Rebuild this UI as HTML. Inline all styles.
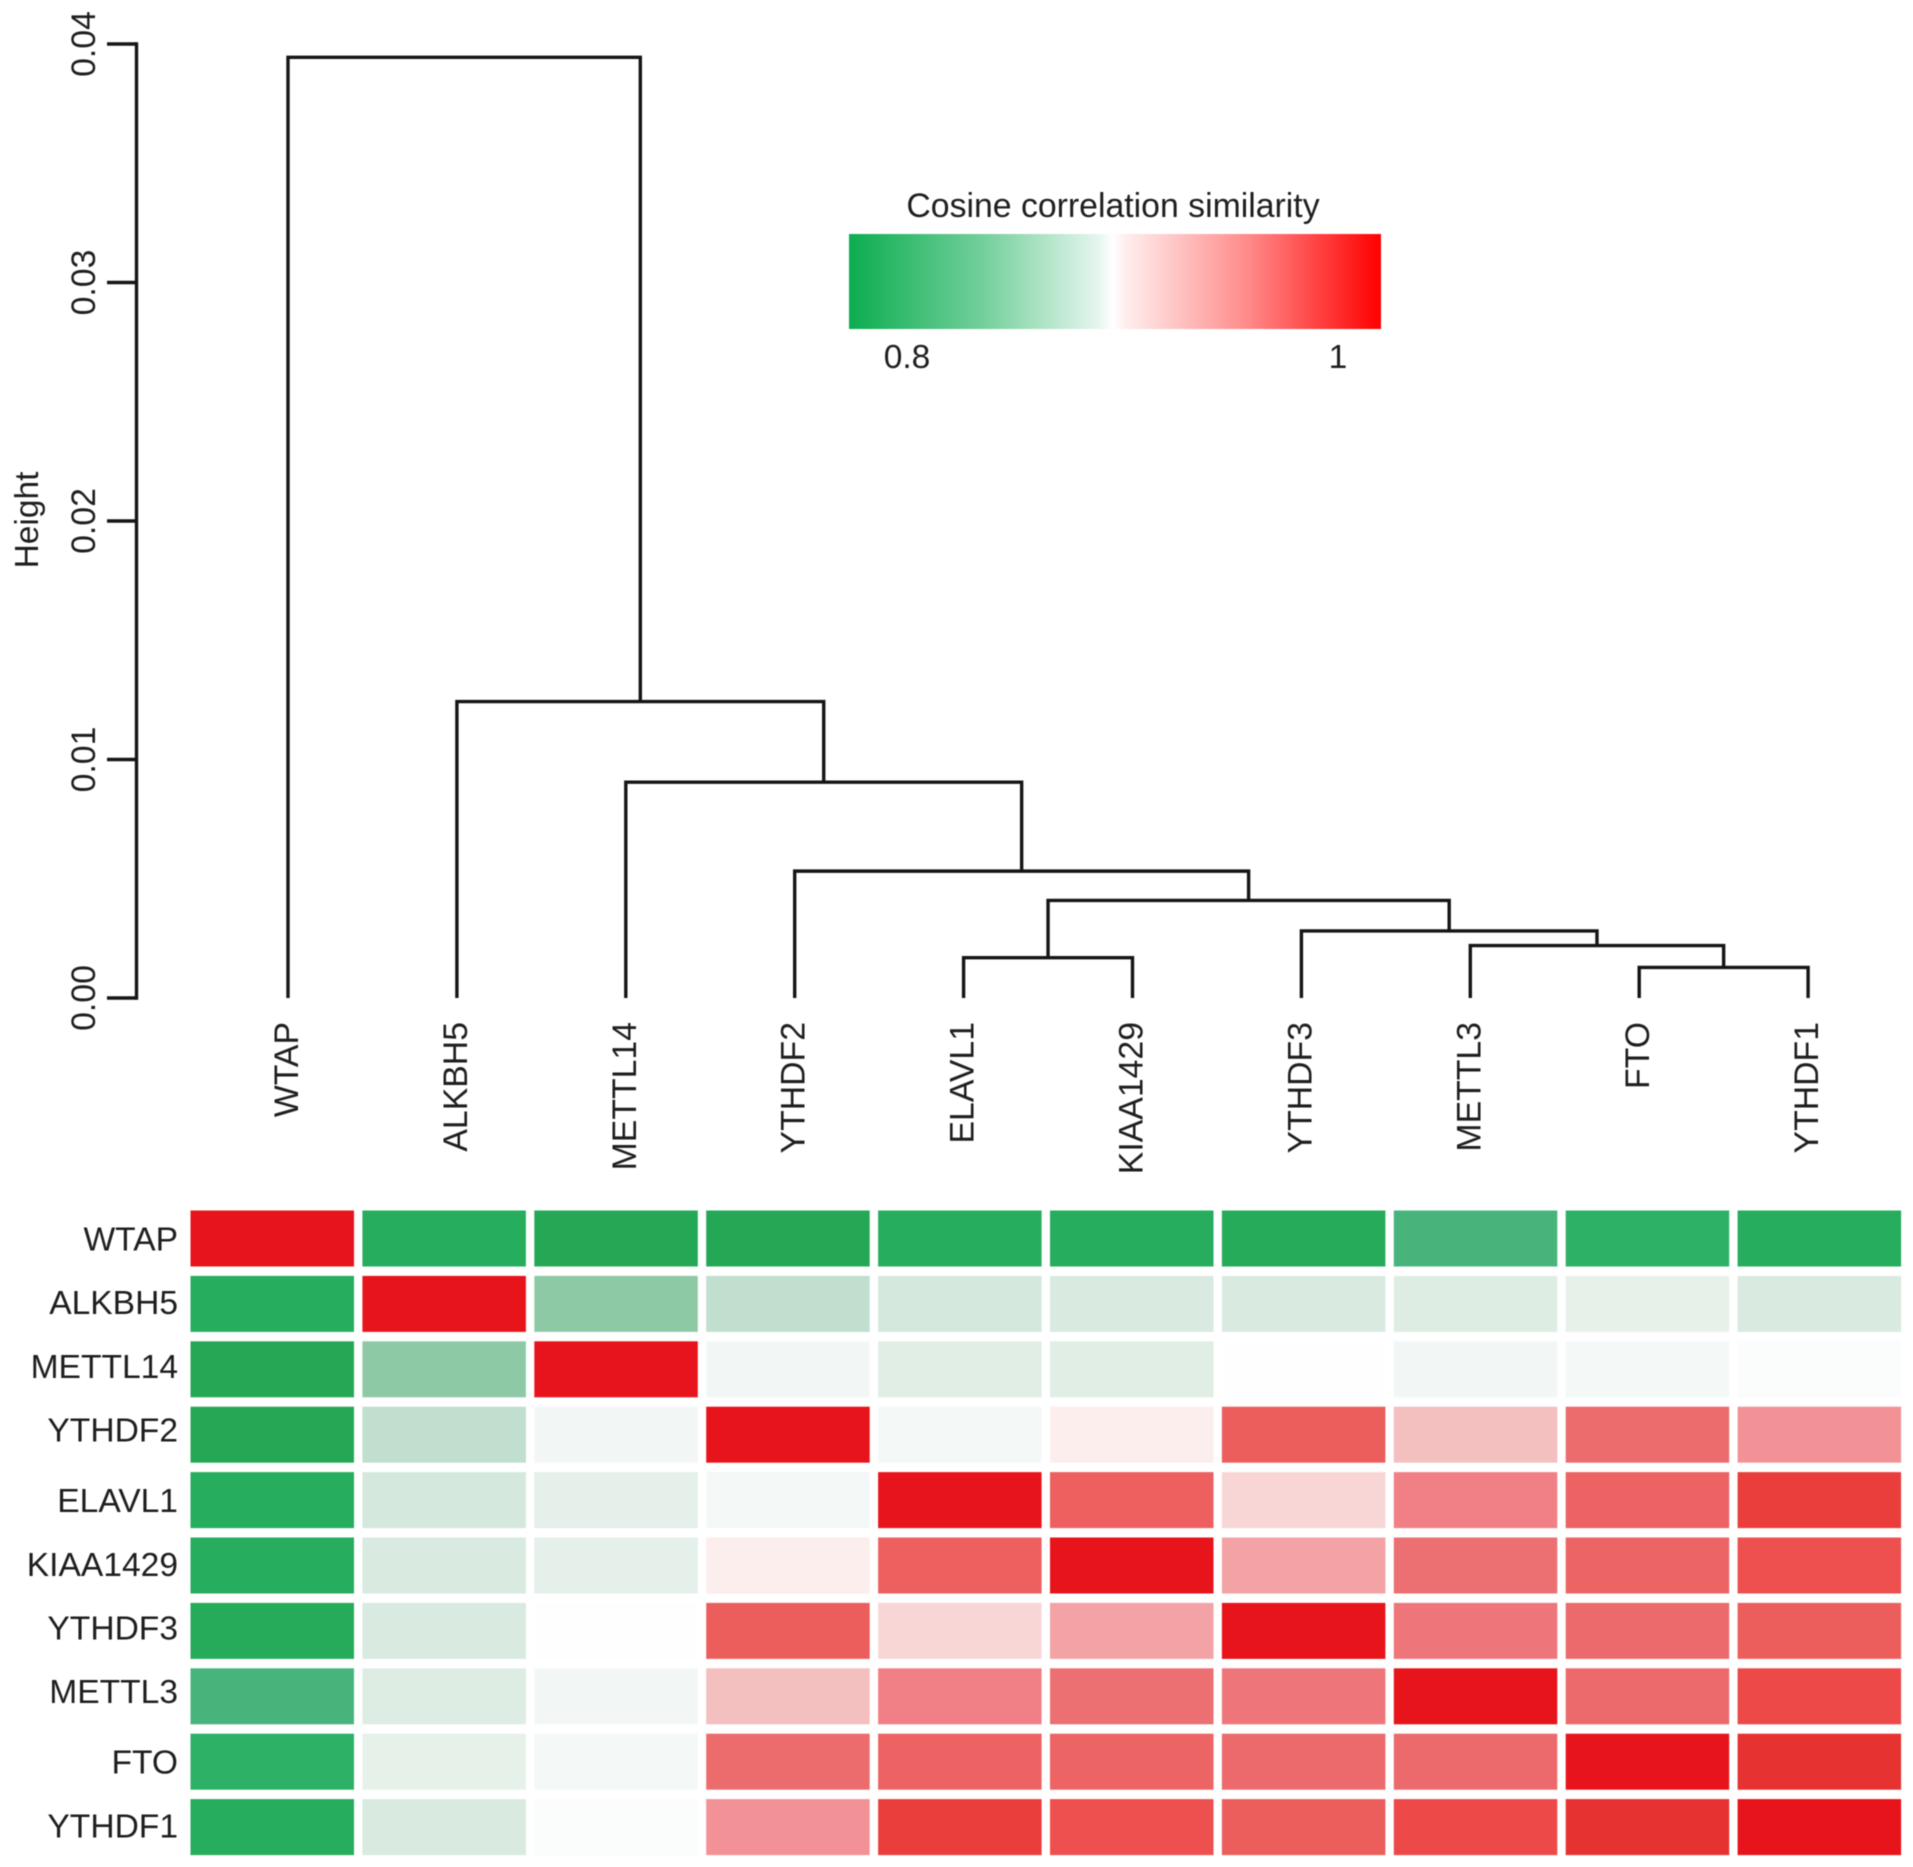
<!DOCTYPE html>
<html>
<head>
<meta charset="utf-8">
<title>Cosine correlation similarity dendrogram and heatmap</title>
<style>
html,body{margin:0;padding:0;background:#fff;}
svg{display:block;filter:blur(0.6px);}
text{font-family:"Liberation Sans",sans-serif;fill:#1e1e1e;}
</style>
</head>
<body>
<svg id="chart" xmlns="http://www.w3.org/2000/svg" width="1913" height="1867" viewBox="0 0 1913 1867">
<defs>
<linearGradient id="legendGradient">
<stop offset="0" stop-color="#0cad50"/>
<stop offset="0.25" stop-color="#72cf9a"/>
<stop offset="0.47" stop-color="#e6f6ef"/>
<stop offset="0.495" stop-color="#ffffff"/>
<stop offset="0.52" stop-color="#ffeeee"/>
<stop offset="0.75" stop-color="#ff8a8a"/>
<stop offset="1" stop-color="#ff0000"/>
</linearGradient>
</defs>
<text transform="translate(38,520) rotate(-90)" text-anchor="middle" font-size="33.5">Height</text>
<text x="1113" y="217" text-anchor="middle" font-size="33.8">Cosine correlation similarity</text>
<rect x="849" y="234" width="532" height="95" fill="url(#legendGradient)"/>
<text x="907" y="368" text-anchor="middle" font-size="33.5">0.8</text>
<text x="1338" y="368" text-anchor="middle" font-size="33.5">1</text>
<g id="axis"></g>
<g id="tree"></g>
<g id="leaves"></g>
<g id="rows"></g>
<g id="heat"></g>
</svg>
<script>
const genes = ["WTAP","ALKBH5","METTL14","YTHDF2","ELAVL1","KIAA1429","YTHDF3","METTL3","FTO","YTHDF1"];
const yTicks = [0, 0.01, 0.02, 0.03, 0.04];
const yTickLabels = ["0.00","0.01","0.02","0.03","0.04"];
// hclust-style merges: negative = leaf position (-1 is first leaf), positive = earlier merge number
const mergeLeft = [-9, -8, -5, -7, 3, -4, -3, -2, -1];
const mergeRight = [-10, 1, -6, 2, 4, 5, 6, 7, 8];
const mergeHeights = [0.00128, 0.0022, 0.00169, 0.00281, 0.00409, 0.00532, 0.00905, 0.01243, 0.03944];
// similarity on a signed scale: -1 = full green, 0 = white, 1 = full red
const cellValues = [
[1,-0.97,-1,-1,-0.97,-0.97,-0.98,-0.84,-0.93,-0.97],
[-0.97,1,-0.52,-0.28,-0.2,-0.18,-0.18,-0.16,-0.12,-0.18],
[-1,-0.52,1,-0.06,-0.15,-0.15,-0.01,-0.06,-0.05,-0.02],
[-1,-0.28,-0.06,1,-0.05,0.07,0.72,0.3,0.62,0.47],
[-0.97,-0.2,-0.13,-0.05,1,0.7,0.2,0.53,0.68,0.84],
[-0.97,-0.18,-0.13,0.07,0.7,1,0.4,0.6,0.67,0.78],
[-0.98,-0.18,-0.01,0.72,0.2,0.4,1,0.57,0.63,0.72],
[-0.84,-0.16,-0.06,0.3,0.53,0.6,0.57,1,0.63,0.8],
[-0.93,-0.12,-0.05,0.62,0.68,0.67,0.63,0.63,1,0.88],
[-0.97,-0.18,-0.02,0.47,0.84,0.78,0.72,0.8,0.88,1]
];

const NS = "http://www.w3.org/2000/svg";
const yScale = v => 998 - (v / 0.04) * 954;
const leafX = i => 288 + i * 168.9;
const colX = i => 190.5 + i * 171.9;
const rowY = i => 1210.5 + i * 65.4;
const rowLabelY = i => 1250.5 + i * 63.7 + Math.floor(i / 4) * 6.8;
const LINE = "#151515";

function make(tag, parent, attrs, txt) {
  const el = document.createElementNS(NS, tag);
  for (const k in attrs) el.setAttribute(k, attrs[k]);
  if (txt !== undefined) el.textContent = txt;
  parent.appendChild(el);
  return el;
}
function ramp(stops, t) {
  for (let i = 1; i < stops.length; i++) {
    if (t <= stops[i][0]) {
      const a = stops[i - 1], b = stops[i];
      const f = (t - a[0]) / (b[0] - a[0]);
      return [1, 2, 3].map(k => Math.round(a[k] + (b[k] - a[k]) * f));
    }
  }
  return stops[stops.length - 1].slice(1);
}
const greenRamp = [[0,255,255,255],[0.06,242,247,245],[0.15,224,238,229],[0.2,213,232,222],[0.28,192,223,206],[0.52,142,201,165],[0.84,71,181,123],[0.95,39,176,99],[1,37,168,85]];
const redRamp = [[0,255,255,255],[0.07,253,238,238],[0.2,248,214,214],[0.3,244,191,191],[0.4,243,163,165],[0.47,242,146,151],[0.53,240,128,133],[0.6,236,111,114],[0.68,237,98,98],[0.72,236,94,92],[0.78,238,79,79],[0.84,233,62,59],[0.88,230,50,48],[1,232,20,27]];
function cellColor(v) {
  const c = ramp(v >= 0 ? redRamp : greenRamp, Math.min(1, Math.abs(v)));
  return "rgb(" + c.join(",") + ")";
}

const axisG = document.getElementById("axis");
const spine = make("line", axisG, {x1:136.5, x2:136.5, y1:yScale(yTicks[yTicks.length-1]), y2:yScale(yTicks[0]), stroke:LINE, "stroke-width":3.4, "stroke-linecap":"square"});


yTicks.forEach((t, i) => {
  const tick = make("line", axisG, {x1:107, x2:136.5, y1:yScale(t), y2:yScale(t), stroke:LINE, "stroke-width":3.4});
  
  
  const lab = make("text", axisG, {transform:"translate(95," + yScale(t) + ") rotate(-90)", "text-anchor":"middle", "font-size":33.8}, yTickLabels[i]);
  
  
});

const treeG = document.getElementById("tree");
const nodes = [];
function resolve(id) {
  if (id < 0) return {x: leafX(-id - 1), h: 0};
  return nodes[id - 1];
}
mergeHeights.forEach((h, i) => {
  const a = resolve(mergeLeft[i]);
  const b = resolve(mergeRight[i]);
  const y = yScale(h);
  const d = "M" + a.x + " " + yScale(a.h) + "V" + y + "H" + b.x + "V" + yScale(b.h);
  const p = make("path", treeG, {d:d, fill:"none", stroke:LINE, "stroke-width":3.4, "stroke-linejoin":"miter"});
  
  
  nodes.push({x: (a.x + b.x) / 2, h: h});
});

const leavesG = document.getElementById("leaves");
genes.forEach((g, i) => {
  const t = make("text", leavesG, {transform:"translate(" + (leafX(i) + 10) + ",1022) rotate(-90)", "text-anchor":"end", "font-size":33.8}, g);
  
  
});

const rowsG = document.getElementById("rows");
genes.forEach((g, i) => {
  const t = make("text", rowsG, {x:178, y:rowLabelY(i), "text-anchor":"end", "font-size":33.6}, g);
  
  
});

const heatG = document.getElementById("heat");
cellValues.forEach((row, r) => {
  row.forEach((v, c) => {
    const cell = make("rect", heatG, {x:colX(c), y:rowY(r), width:163.5, height:56, fill:cellColor(v)});
    
    
  });
});
</script>
</body>
</html>
